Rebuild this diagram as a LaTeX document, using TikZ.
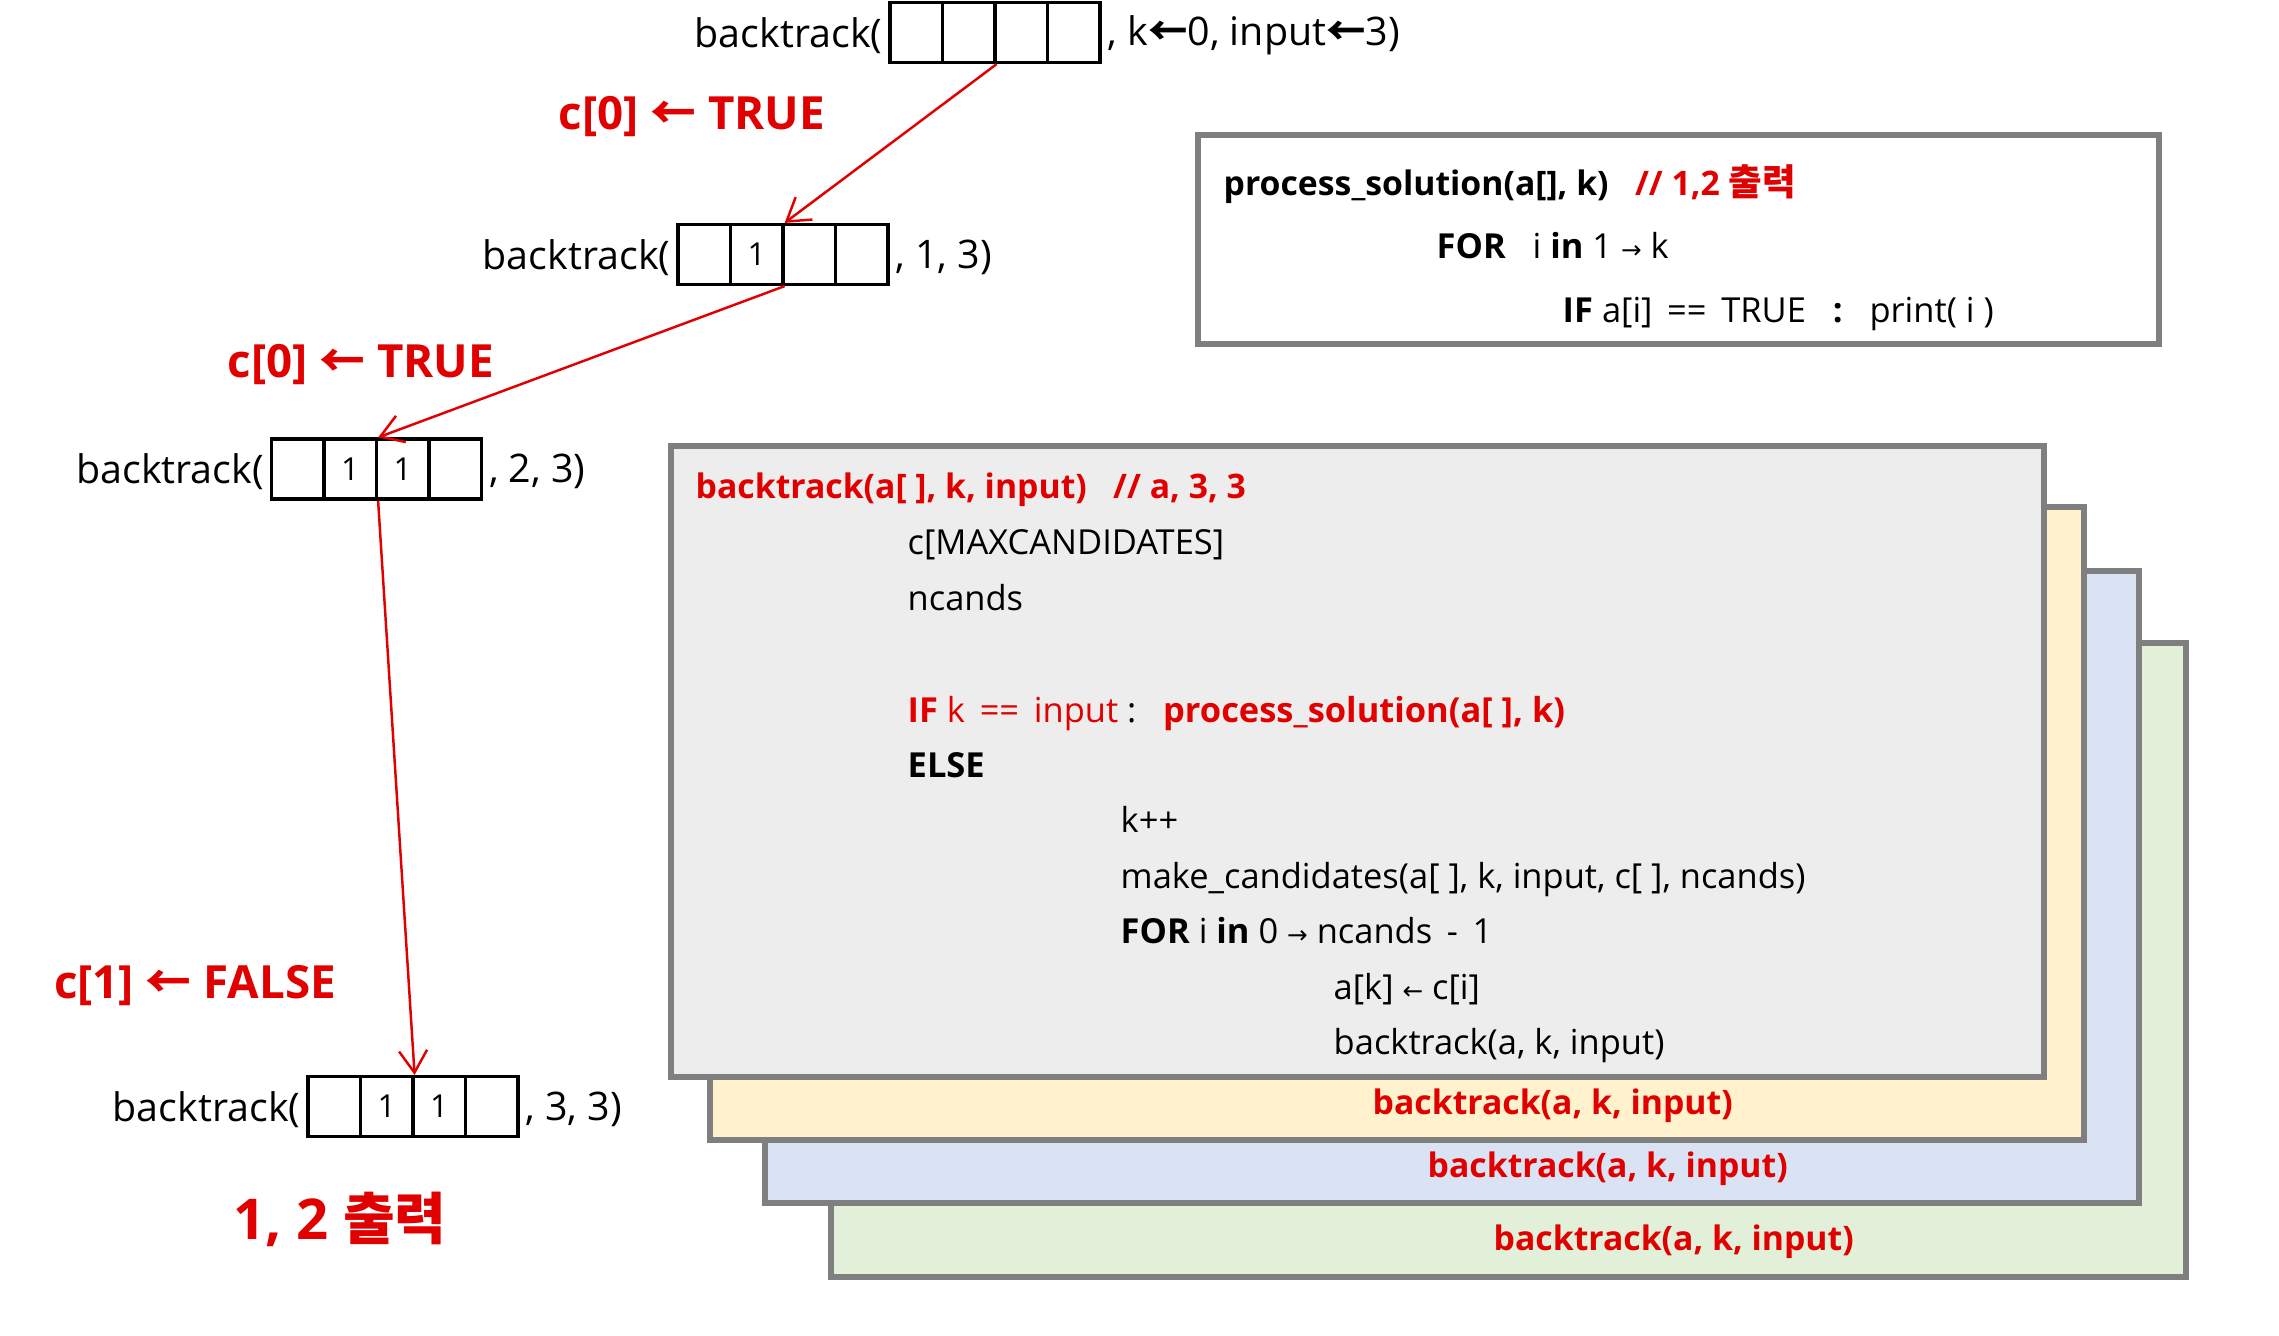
\documentclass[tikz,border=0pt]{standalone}
\usepackage{fontspec}
\setmainfont{Open Sans}
\newfontfamily\kr{Noto Sans CJK KR}
\newfontfamily\arw{DejaVu Sans}
\usetikzlibrary{arrows.meta}
\usetikzlibrary{positioning}
\definecolor{hotred}{HTML}{E00000}
\definecolor{edgegray}{HTML}{7F7F7F}
\definecolor{codegray}{HTML}{EDEDED}
\definecolor{codeyellow}{HTML}{FFF2CC}
\definecolor{codeblue}{HTML}{DAE3F3}
\definecolor{codegreen}{HTML}{E2F0D9}
\newcommand{\larr}{{\kr ←}}
\newcommand{\rarr}{{\arw\scriptsize →}}
\newcommand{\sarr}{{\arw\scriptsize ←}}
\tikzset{
	cell/.style={draw, line width=0.9pt, minimum width=5.25mm, minimum height=6mm, inner sep=0pt, font=\fontsize{9}{11}\selectfont},
	call/.style={inner sep=1.5pt, yshift=-0.8pt, font=\fontsize{11.2}{13}\selectfont},
	choice/.style={text=hotred, font=\bfseries\fontsize{13}{15}\selectfont},
	recur/.style={draw=hotred, line width=0.7pt, -{Straight Barb[length=2.2mm, width=2.8mm]}},
	frame/.style={draw=edgegray, line width=1.7pt},
	code/.style={anchor=base west, inner sep=0pt, font=\fontsize{9.8}{12}\selectfont},
	hot/.style={code, text=hotred, font=\bfseries\fontsize{9.6}{12}\selectfont}
}
\begin{document}
\begin{tikzpicture}[x=0.01cm, y=-0.01cm]
\useasboundingbox (0,0) rectangle (2279,1335);

\foreach \v [count=\i] in {{},{},{},{}}
	\node[cell] (r0c\i) at (863.75+52.5*\i, 32.5) {\v};
\foreach \v [count=\i] in {{},1,{},{}}
	\node[cell] (r1c\i) at (651.75+52.5*\i, 254.5) {\v};
\foreach \v [count=\i] in {{},1,1,{}}
	\node[cell] (r2c\i) at (245.25+52.5*\i, 469) {\v};
\foreach \v [count=\i] in {{},1,1,{}}
	\node[cell] (r3c\i) at (281.75+52.5*\i, 1106.5) {\v};

\node[call, left=0pt of r0c1] (call0) {backtrack(};
\node[call, right=0pt of r0c4] (tail0) {, k{\kr\bfseries ←}0, input{\kr\bfseries ←}3)};
\node[call, left=0pt of r1c1] (call1) {backtrack(};
\node[call, right=0pt of r1c4] (tail1) {, 1, 3)};
\node[call, left=0pt of r2c1] (call2) {backtrack(};
\node[call, right=0pt of r2c4] (tail2) {, 2, 3)};
\node[call, left=0pt of r3c1] (call3) {backtrack(};
\node[call, right=0pt of r3c4] (tail3) {, 3, 3)};

\node[choice] (pick0) at (692,117) {c[0] \larr\ TRUE};
\node[choice] (pick1) at (361,365) {c[0] \larr\ TRUE};
\node[choice] (pick2) at (195,986) {c[1] \larr\ FALSE};
\node[choice, font=\bfseries\fontsize{16}{19}\selectfont] (out) at (340,1219) {1, 2 {\kr 출력}};

\draw [recur] (r0c2.south east) -- (r1c2.north east);
\draw [recur] (r1c2.south east) -- (r2c2.north east);
\draw [recur] (r2c2.south east) -- (r3c2.north east);

\draw[frame, fill=white] (1198,135) rectangle (2159,344);
\node[code, font=\bfseries\fontsize{9.6}{12}\selectfont] (ps) at (1223,195)
	{process\_solution(a[], k)\ \ \ \textcolor{hotred}{// 1,2 {\kr\fontsize{10.4}{12}\selectfont 출력}}};
\node[code] (psfor) at (1436,258) {\textbf{FOR}\ \ \ i \textbf{in} 1 \rarr\ k};
\node[code] (psif) at (1562,322) {\textbf{IF} a[i] \,==\, TRUE\ \ \ \textbf{:}\ \ \ print( i )};

\draw[frame, fill=codegreen] (831,643) rectangle (2186,1277);
\node[hot] (gcall) at (1493,1250) {backtrack(a, k, input)};
\draw[frame, fill=codeblue] (765,571) rectangle (2139,1203);
\node[hot] (bcall) at (1427,1177) {backtrack(a, k, input)};
\draw[frame, fill=codeyellow] (710,507) rectangle (2084,1140);
\node[hot] (ycall) at (1372,1114) {backtrack(a, k, input)};
\draw[frame, fill=codegray] (671,446) rectangle (2044,1077);

\node[hot] (head) at (695,498) {backtrack(a[ ], k, input)\ \ \ // a, 3, 3};
\node[code] (l1) at (907,554) {c[MAXCANDIDATES]};
\node[code] (l2) at (907,610) {ncands};
\node[code] (l3) at (907,722)
	{\textcolor{hotred}{\textbf{IF} k \,==\, input}\ :\ \ \ \textcolor{hotred}{\bfseries process\_solution(a[ ], k)}};
\node[code] (l4) at (907,777) {\textbf{ELSE}};
\node[code] (l5) at (1120,832) {k++};
\node[code] (l6) at (1120,888) {make\_candidates(a[ ], k, input, c[ ], ncands)};
\node[code] (l7) at (1120,943) {\textbf{FOR} i \textbf{in} 0 \rarr\ ncands \,-\, 1};
\node[code] (l8) at (1333,999) {a[k] \sarr\ c[i]};
\node[code] (l9) at (1333,1054) {backtrack(a, k, input)};

\end{tikzpicture}
\end{document}
